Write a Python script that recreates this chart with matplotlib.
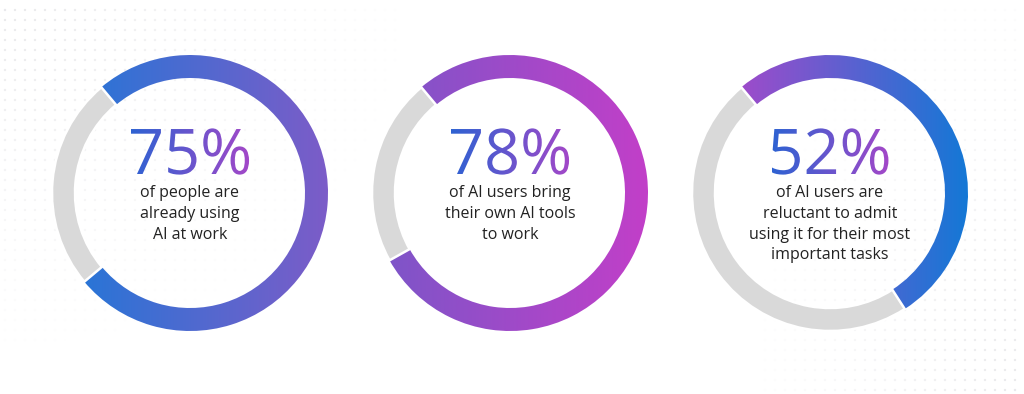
import numpy as np
import matplotlib
matplotlib.use("Agg")
import matplotlib.pyplot as plt
import matplotlib.transforms as mtransforms
from matplotlib.colors import LinearSegmentedColormap
from matplotlib.patches import Wedge, PathPatch
from matplotlib.textpath import TextPath
from matplotlib.font_manager import FontProperties

# Data
percents = [75, 78, 52]
labels = ["75%", "78%", "52%"]
captions = [
    "of people are\nalready using\nAI at work",
    "of AI users bring\ntheir own AI tools\nto work",
    "of AI users are\nreluctant to admit\nusing it for their most\nimportant tasks",
]
# left -> right colours of each ring's arc
ring_colors = [
    ("#1f78d8", "#7c5cc8"),
    ("#7a56c8", "#c23fc8"),
    ("#bb42c8", "#1478d6"),
]
number_colors = ("#2e62d2", "#a348c8")

W, H = 1024, 394
centers_x = [190, 510, 830]
center_y = H - 193
r_out, ring_w = 138, 23
start_angle = 130  # arcs run clockwise from here
gray = "#d9d9d9"

fig = plt.figure(figsize=(W / 100, H / 100), dpi=100)
ax = fig.add_axes([0, 0, 1, 1])
ax.set_xlim(0, W)
ax.set_ylim(0, H)
ax.axis("off")

# faint dotted background, fading away from the corners
gx, gy = np.meshgrid(np.arange(5, W, 10), np.arange(4, H, 10))
gx, gy = gx.ravel(), gy.ravel()
d1 = np.hypot(gx / 420, (H - gy) / 360)
d2 = np.hypot((W - gx) / 280, gy / 450)
a = np.clip(np.maximum(1 - d1, 1 - d2), 0, 1) * 0.5
keep = a > 0.02
ax.scatter(gx[keep], gy[keep], s=3, c=[(0.82, 0.82, 0.84, v) for v in a[keep]],
           linewidths=0, zorder=0)

fp_num = FontProperties(family=["Open Sans", "DejaVu Sans"], weight="normal")

for cx, pct, lab, cap, (c0, c1) in zip(centers_x, percents, labels, captions, ring_colors):
    span = pct / 100 * 360
    # gray remainder
    ax.add_patch(Wedge((cx, center_y), r_out, start_angle, start_angle - span + 360,
                       width=ring_w, facecolor=gray, edgecolor="white", lw=1.8, zorder=3))
    # gradient arc
    arc = Wedge((cx, center_y), r_out, start_angle - span, start_angle,
                width=ring_w, facecolor="none", edgecolor="none")
    ax.add_patch(arc)
    cmap = LinearSegmentedColormap.from_list("g", [c0, c1])
    ax.imshow(np.linspace(0, 1, 256)[None, :], cmap=cmap, aspect="auto",
              extent=[cx - r_out, cx + r_out, center_y - r_out, center_y + r_out],
              clip_path=arc, zorder=2, interpolation="bilinear")

    # gradient percentage
    tp = TextPath((0, 0), lab, size=63, prop=fp_num)
    bb = tp.get_extents()
    base = H - 174
    x0 = cx - (bb.x0 + bb.x1) / 2
    tr = mtransforms.Affine2D().translate(x0, base) + ax.transData
    txt = PathPatch(tp, transform=tr, facecolor="none", edgecolor="none")
    ax.add_patch(txt)
    ncmap = LinearSegmentedColormap.from_list("n", list(number_colors))
    ax.imshow(np.linspace(0, 1, 256)[None, :], cmap=ncmap, aspect="auto",
              extent=[x0 + bb.x0, x0 + bb.x1, base + bb.y0, base + bb.y1],
              clip_path=txt, zorder=4, interpolation="bilinear")

    ax.text(cx, H - 185, cap, ha="center", va="top", multialignment="center",
            fontsize=11.5, color="#222222", linespacing=1.4,
            family=["Open Sans", "DejaVu Sans"], zorder=5)

ax.set_xlim(0, W)
ax.set_ylim(0, H)
fig.savefig("out.png", dpi=100, facecolor="white")
